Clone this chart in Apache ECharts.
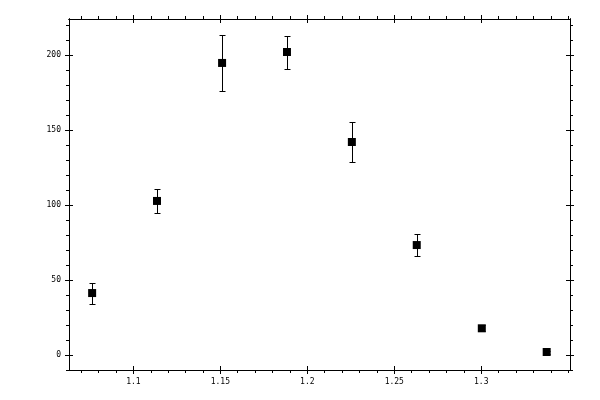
<!DOCTYPE html>
<html><head><meta charset="utf-8">
<script src="https://cdn.jsdelivr.net/npm/echarts@6/dist/echarts.min.js"></script>
<style>html,body{margin:0;padding:0;background:#fff}#c{width:600px;height:400px}</style>
</head><body><div id="c"></div>
<script>
const xValues = [1.0763, 1.1136, 1.1510, 1.1883, 1.2256, 1.2629, 1.3003, 1.3376];
const yValues = [41.3, 102.7, 194.7, 202.0, 142.0, 73.3, 17.8, 2.0];
const yErrors = [7.0, 8.3, 18.5, 11.0, 13.5, 7.3, 2.0, 1.0];
const xMajorTicks = [1.1, 1.15, 1.2, 1.25, 1.3];
const xMinorTicks = [1.07, 1.08, 1.09, 1.11, 1.12, 1.13, 1.14, 1.16, 1.17, 1.18, 1.19, 1.21, 1.22, 1.23, 1.24, 1.26, 1.27, 1.28, 1.29, 1.31, 1.32, 1.33, 1.34, 1.35];
const yMajorTicks = [0, 50, 100, 150, 200];
const yMinorTicks = [-10, 10, 20, 30, 40, 60, 70, 80, 90, 110, 120, 130, 140, 160, 170, 180, 190, 210, 220];
const xLabels = ['1.1', '1.15', '1.2', '1.25', '1.3'];
const yLabels = ['0', '50', '100', '150', '200'];

const X_MIN = 1.063, X_MAX = 1.351, Y_MIN = -10, Y_MAX = 224;
const black = '#000';
const font = { fontFamily: 'DejaVu Sans Mono', fontSize: 8, color: black };

function mkAxis(kind, position, ticks, len, inside, labels, labelTexts) {
  const a = {
    type: 'value', position: position,
    min: kind === 'x' ? X_MIN : Y_MIN, max: kind === 'x' ? X_MAX : Y_MAX,
    axisLine: { show: true, onZero: false, lineStyle: { color: black, width: 1 } },
    axisTick: { show: true, inside: inside, length: len, customValues: ticks, lineStyle: { color: black, width: 1 } },
    axisLabel: { show: false },
    splitLine: { show: false }
  };
  if (labels) {
    a.axisLabel = Object.assign({ show: true, margin: 8, customValues: labels,
      formatter: function (v) { const i = labels.findIndex(t => Math.abs(t - v) < 1e-9); return i >= 0 ? labelTexts[i] : ''; } }, font);
  }
  return a;
}

const xAxes = [
  mkAxis('x', 'bottom', xMajorTicks, 4, false, xMajorTicks, xLabels),
  mkAxis('x', 'bottom', xMajorTicks, 4, true),
  mkAxis('x', 'bottom', xMinorTicks, 3, false),
  mkAxis('x', 'top', xMajorTicks, 4, false),
  mkAxis('x', 'top', xMajorTicks, 4, true),
  mkAxis('x', 'top', xMinorTicks, 3, false)
];
const yAxes = [
  mkAxis('y', 'left', yMajorTicks, 4, false, yMajorTicks, yLabels),
  mkAxis('y', 'left', yMajorTicks, 4, true),
  mkAxis('y', 'left', yMinorTicks, 3, false),
  mkAxis('y', 'right', yMajorTicks, 4, false),
  mkAxis('y', 'right', yMajorTicks, 4, true),
  mkAxis('y', 'right', yMinorTicks, 3, false)
];

const pts = xValues.map((x, i) => [x, yValues[i]]);
const errData = xValues.map((x, i) => [x, yValues[i] - yErrors[i], yValues[i] + yErrors[i]]);

const chart = echarts.init(document.getElementById('c'), null, { renderer: 'canvas' });
chart.setOption({
  animation: false,
  backgroundColor: '#fff',
  grid: { left: 69, right: 30, top: 19, bottom: 30, containLabel: false },
  xAxis: xAxes,
  yAxis: yAxes,
  series: [
    {
      type: 'custom', xAxisIndex: 0, yAxisIndex: 0, data: errData, z: 2,
      renderItem: function (params, api) {
        const x = api.value(0);
        const lo = api.coord([x, api.value(1)]);
        const hi = api.coord([x, api.value(2)]);
        const cx = Math.round(lo[0]) + 0.5;
        const yl = Math.round(lo[1]) + 0.5, yh = Math.round(hi[1]) + 0.5;
        const w = 3;
        const st = { stroke: black, lineWidth: 1 };
        return { type: 'group', children: [
          { type: 'line', shape: { x1: cx, y1: yl, x2: cx, y2: yh }, style: st },
          { type: 'line', shape: { x1: cx - w, y1: yl, x2: cx + w, y2: yl }, style: st },
          { type: 'line', shape: { x1: cx - w, y1: yh, x2: cx + w, y2: yh }, style: st }
        ] };
      }
    },
    {
      type: 'scatter', xAxisIndex: 0, yAxisIndex: 0, data: pts, z: 3,
      symbol: 'rect', symbolSize: 8, itemStyle: { color: black, opacity: 1 }
    }
  ]
});
</script></body></html>
